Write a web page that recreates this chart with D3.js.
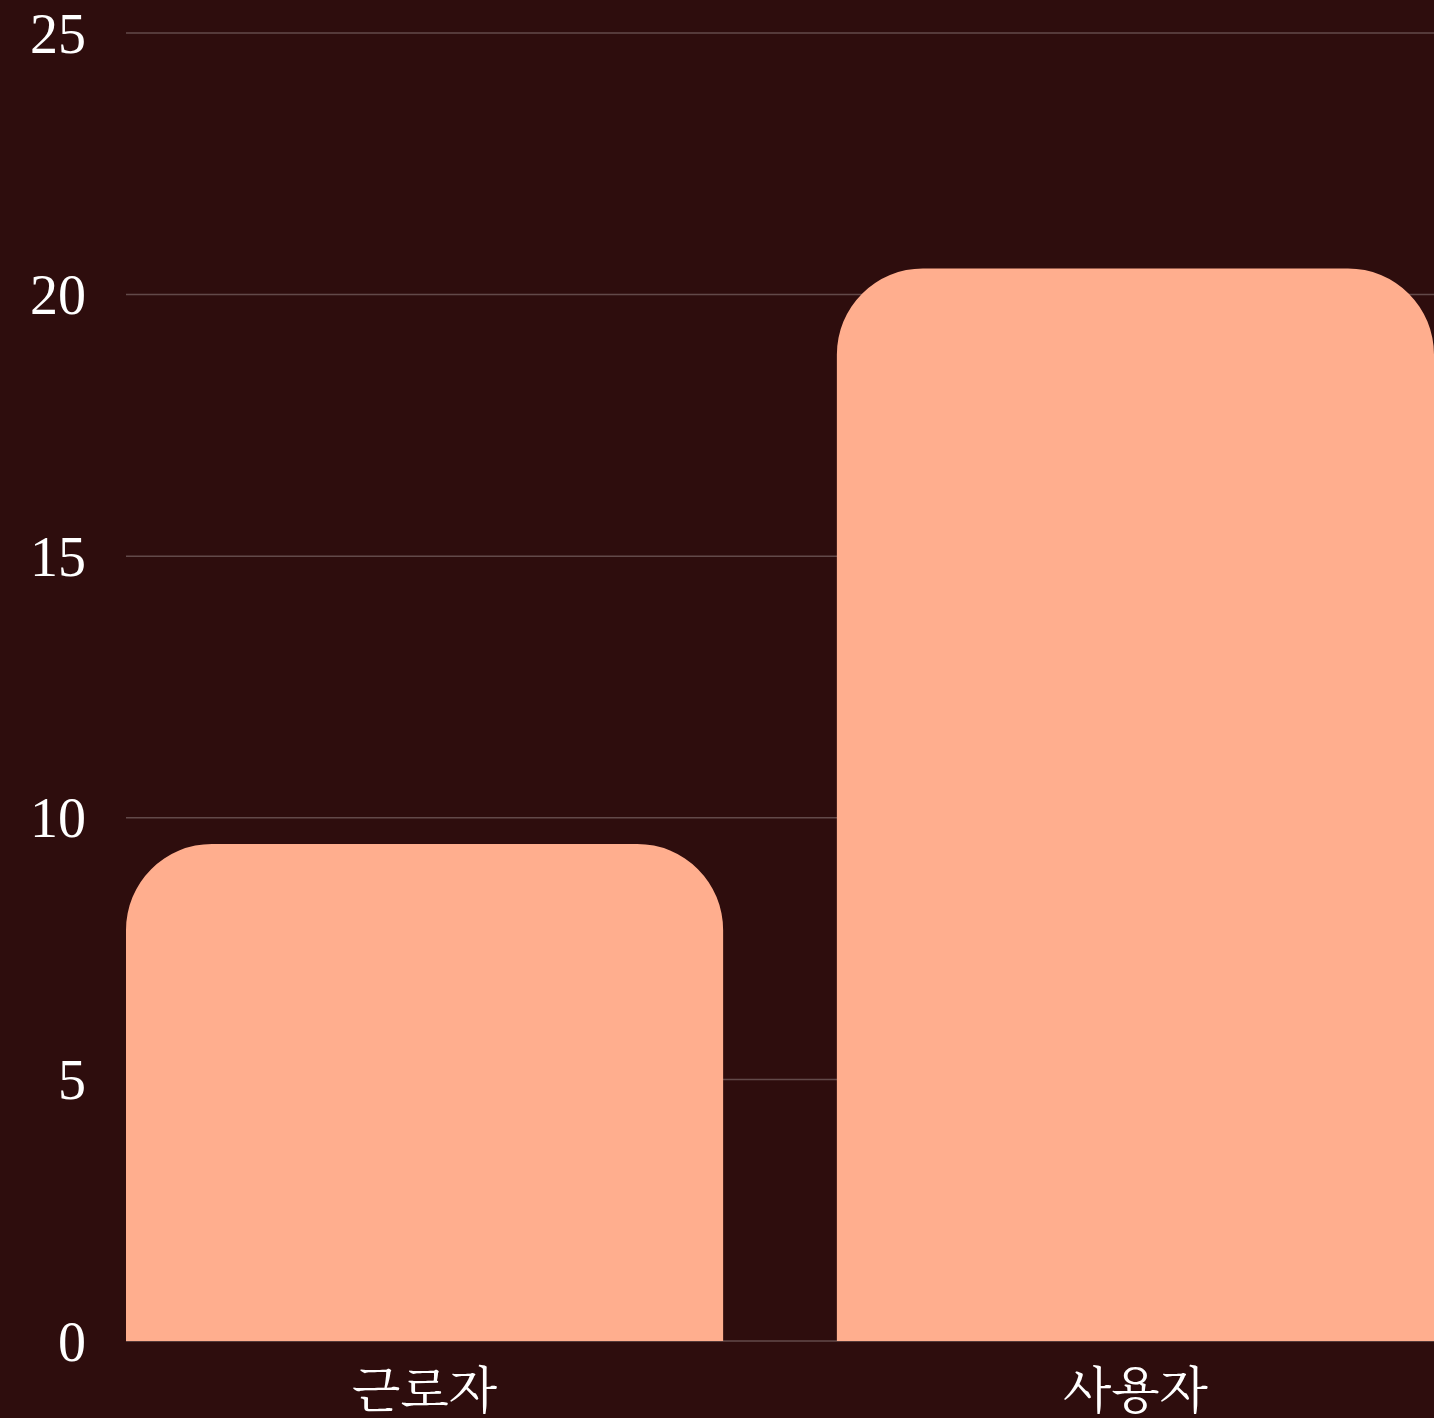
<!DOCTYPE html>
<html><head><meta charset="utf-8">
<script src="https://cdn.jsdelivr.net/npm/d3@7"></script>
<style>
html,body{margin:0;padding:0;background:#2e0d0d;overflow:hidden;}
</style></head>
<body>
<svg id="c" width="1434" height="1418"></svg>
<script>
const categories = ["근로자", "사용자"];
const values = [9.5, 20.5];
const yTicks = [0, 5, 10, 15, 20, 25];

const W = 1434, H = 1418;
const m = {left: 126, right: 0, top: 33, bottom: 77};
const svg = d3.select("#c");
svg.append("rect").attr("width", W).attr("height", H).attr("fill", "#2e0d0d");

const x = d3.scaleBand().domain(categories).range([m.left, W - m.right]).paddingInner(0.16).paddingOuter(0);
const y = d3.scaleLinear().domain([0, 25]).range([H - m.bottom, m.top]);

// grid
svg.append("g").selectAll("line").data(yTicks).join("line")
  .attr("x1", m.left).attr("x2", W).attr("y1", d => y(d)).attr("y2", d => y(d))
  .attr("stroke", "#ffffff").attr("stroke-opacity", 0.25).attr("stroke-width", 1.5);

// y labels
svg.append("g").selectAll("text").data(yTicks).join("text")
  .attr("x", 86).attr("y", d => y(d)).attr("dy", "0.35em")
  .attr("text-anchor", "end").attr("fill", "#ffffff")
  .attr("font-family", "'Liberation Serif','DejaVu Serif',serif").attr("font-size", 56)
  .text(d => d);

// bars with rounded top corners
const r = 86;
function barPath(x0, w, yTop, yBot) {
  const rr = Math.min(r, w / 2, yBot - yTop);
  return `M${x0},${yBot}V${yTop + rr}A${rr},${rr} 0 0 1 ${x0 + rr},${yTop}H${x0 + w - rr}A${rr},${rr} 0 0 1 ${x0 + w},${yTop + rr}V${yBot}Z`;
}
svg.append("g").selectAll("path").data(categories).join("path")
  .attr("d", (c, i) => barPath(x(c), x.bandwidth(), y(values[i]), y(0)))
  .attr("fill", "#ffae8e");

// x labels
svg.append("g").selectAll("text").data(categories).join("text")
  .attr("x", c => x(c) + x.bandwidth() / 2).attr("y", 1408)
  .attr("text-anchor", "middle").attr("fill", "#ffffff")
  .attr("font-family", "'Noto Serif CJK KR','Noto Sans CJK KR',serif").attr("font-size", 50)
  .text(c => c);
</script>
</body></html>
